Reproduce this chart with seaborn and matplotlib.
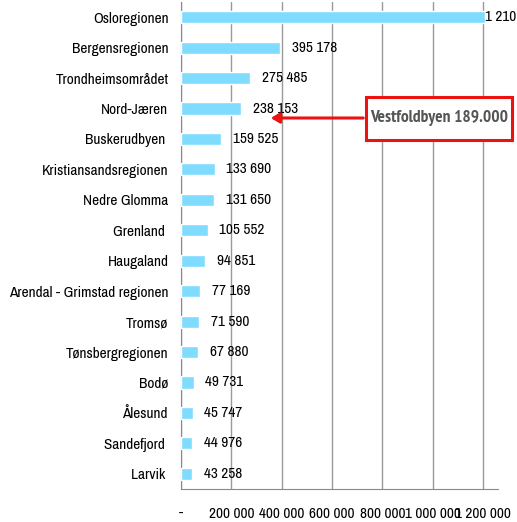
import matplotlib
matplotlib.use("Agg")
import matplotlib.pyplot as plt
import seaborn as sns
import pandas as pd
from matplotlib.patches import Rectangle, FancyArrowPatch
from matplotlib import font_manager
from matplotlib.font_manager import FontProperties

regions = ["Osloregionen", "Bergensregionen", "Trondheimsområdet", "Nord-Jæren",
           "Buskerudbyen ", "Kristiansandsregionen", "Nedre Glomma", "Grenland ",
           "Haugaland", "Arendal - Grimstad regionen", "Tromsø", "Tønsbergregionen",
           "Bodø", "Ålesund", "Sandefjord ", "Larvik "]
population = [1210000, 395178, 275485, 238153, 159525, 133690, 131650, 105552,
              94851, 77169, 71590, 67880, 49731, 45747, 44976, 43258]
value_labels = ["1 210", "395 178", "275 485", "238 153", "159 525", "133 690",
                "131 650", "105 552", "94 851", "77 169", "71 590", "67 880",
                "49 731", "45 747", "44 976", "43 258"]
x_ticks = [0, 200000, 400000, 600000, 800000, 1000000, 1200000]
x_ticklabels = ["-", "200 000", "400 000", "600 000", "800 000", "1 000 000", "1 200 000"]
callout_text = "Vestfoldbyen 189.000"

sns.set_style("white")
plt.rcParams["font.family"] = ["DejaVu Sans"]


def find_font(bold):
    best = None
    for f in font_manager.fontManager.ttflist:
        fn = f.fname.lower()
        narrow = ("condensed" in fn or "narrow" in fn or
                  str(f.stretch) in ("condensed", "semi-condensed", "extra-condensed"))
        if not narrow or f.style != "normal":
            continue
        w = f.weight if isinstance(f.weight, int) else (700 if f.weight == "bold" else 400)
        if bold and w < 600:
            continue
        if not bold and w not in (400, "normal", "regular"):
            continue
        if "light" in fn or "thin" in fn or "medium" in fn or "semibold" in fn or "black" in fn:
            continue
        score = 0 if ("narrow" in fn or "liberation" in fn) else (1 if "roboto" in fn else 2)
        if best is None or score < best[0]:
            best = (score, f.fname)
    return best[1] if best else None


reg_file = find_font(False)
bold_file = find_font(True)
if reg_file:
    fp = FontProperties(fname=reg_file, size=11)
else:
    fp = FontProperties(family="DejaVu Sans", size=8.5)
if bold_file:
    fpb = FontProperties(fname=bold_file, size=12.5)
else:
    fpb = FontProperties(family="DejaVu Sans", weight="bold", size=10)

df = pd.DataFrame({"region": regions, "pop": population})

W, H = 517, 522
fig = plt.figure(figsize=(W / 100, H / 100), dpi=100)
ax = fig.add_axes([181 / W, 1 - 489 / H, (498 - 181) / W, (489 - 2) / H])

sns.barplot(data=df, y="region", x="pop", orient="h", color="#80dcff",
            saturation=1, width=0.4, ax=ax, zorder=3)

ax.set_xlim(0, 1260000)
ax.set_ylim(len(regions) - 0.5, -0.5)
ax.set_xlabel("")
ax.set_ylabel("")

ax.set_xticks(x_ticks)
ax.set_xticklabels(x_ticklabels, fontproperties=fp, color="black")
ax.tick_params(axis="x", direction="out", length=3.6, color="#888888", width=1, pad=9)
ax.grid(axis="x", color="#999999", linewidth=1, zorder=0)
ax.set_axisbelow(True)

ax.set_yticks(range(len(regions)))
ax.set_yticklabels(regions, fontproperties=fp, color="black")
ax.tick_params(axis="y", length=0, pad=9)
ax.set_yticks([i + 0.5 for i in range(len(regions) - 1)], minor=True)
ax.tick_params(axis="y", which="minor", direction="out", length=3, color="#888888", width=1)

for s in ["top", "right"]:
    ax.spines[s].set_visible(False)
ax.spines["left"].set_color("#888888")
ax.spines["bottom"].set_color("#888888")

for i, (v, lab) in enumerate(zip(population, value_labels)):
    off = 0 if i == 0 else 8.5
    ax.annotate(lab, xy=(v, i), xytext=(off, 0), textcoords="offset points",
                va="center", ha="left", fontproperties=fp, color="black",
                annotation_clip=False, clip_on=False, zorder=5)

# callout box
bx0, by0, bx1, by1 = 366, 97, 512, 140
fig.patches.append(Rectangle((bx0 / W, 1 - by1 / H), (bx1 - bx0) / W, (by1 - by0) / H,
                             transform=fig.transFigure, fill=True, facecolor="white",
                             edgecolor="#ee1111", linewidth=2.2, zorder=10))
fig.text((bx0 + bx1) / 2 / W, 1 - 118.5 / H, callout_text, ha="center", va="center",
         fontproperties=fpb, color="#555555", zorder=11)
arrow = FancyArrowPatch((bx0 / W, 1 - 118 / H), (268 / W, 1 - 118 / H),
                        transform=fig.transFigure, arrowstyle="-|>,head_length=5,head_width=3",
                        color="#ee1111", linewidth=2.2, zorder=10)
fig.patches.append(arrow)

fig.savefig("out.png", dpi=100)
